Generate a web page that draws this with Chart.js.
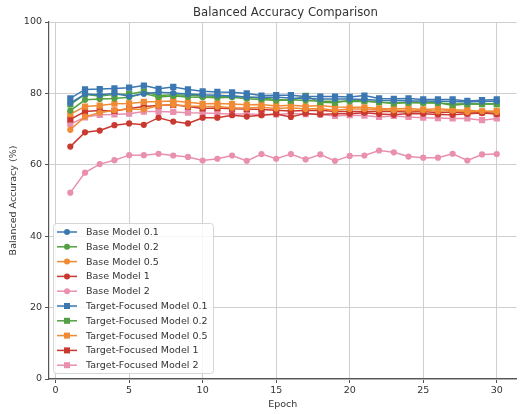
<!DOCTYPE html>
<html>
<head>
<meta charset="utf-8">
<title>Balanced Accuracy Comparison</title>
<script src="https://cdn.jsdelivr.net/npm/chart.js@4/dist/chart.umd.min.js"></script>
<style>
  html, body { margin: 0; padding: 0; background: #fff; }
  #wrap { width: 521px; height: 414px; }
</style>
</head>
<body>
<div id="wrap"><canvas id="accChart" width="521" height="414"></canvas></div>
<script>
// 数据
const epochs = [1, 2, 3, 4, 5, 6, 7, 8, 9, 10, 11, 12, 13, 14, 15, 16, 17, 18, 19, 20, 21, 22, 23, 24, 25, 26, 27, 28, 29, 30]
const xTicks = [0, 5, 10, 15, 20, 25, 30]
const yTicks = [0, 20, 40, 60, 80, 100]

const baseModel01 = [77.3, 79.8, 79.6, 80.0, 79.2, 79.9, 80.3, 80.1, 79.8, 79.6, 79.5, 79.3, 79.0, 78.9, 78.9, 78.7, 78.6, 78.4, 78.4, 78.4, 78.3, 78.1, 78.0, 77.9, 77.9, 77.8, 77.7, 77.6, 77.7, 77.8]
const baseModel02 = [75.2, 78.2, 78.4, 78.6, 78.9, 80.0, 79.0, 79.3, 79.0, 78.9, 78.8, 78.9, 78.5, 78.3, 78.0, 78.2, 78.0, 77.8, 77.8, 77.7, 77.8, 77.5, 77.4, 77.4, 77.3, 77.3, 77.0, 77.1, 77.0, 77.1]
const baseModel05 = [69.8, 73.5, 74.6, 75.3, 75.6, 75.5, 76.6, 76.8, 76.5, 76.3, 76.3, 76.0, 75.9, 76.1, 75.8, 76.0, 75.6, 75.8, 75.3, 75.6, 75.6, 75.5, 75.3, 75.2, 75.3, 75.0, 75.2, 74.8, 75.0, 74.8]
const baseModel1 = [65.1, 69.1, 69.6, 71.1, 71.6, 71.2, 73.2, 72.1, 71.6, 73.2, 73.2, 73.9, 73.5, 73.9, 74.2, 73.4, 74.4, 74.1, 74.3, 74.3, 74.6, 74.2, 74.0, 74.4, 74.3, 74.1, 74.0, 74.3, 74.5, 74.2]
const baseModel2 = [52.2, 57.8, 60.2, 61.3, 62.7, 62.7, 63.1, 62.6, 62.2, 61.2, 61.7, 62.6, 61.1, 63.0, 61.7, 63.0, 61.5, 62.9, 61.1, 62.5, 62.6, 64.0, 63.5, 62.3, 62.0, 62.0, 63.1, 61.2, 62.9, 63.0]
const targetModel01 = [78.6, 81.1, 81.2, 81.4, 81.6, 82.2, 81.3, 81.8, 81.1, 80.6, 80.4, 80.3, 80.0, 79.4, 79.5, 79.5, 79.1, 79.1, 79.1, 79.0, 79.4, 78.6, 78.5, 78.6, 78.3, 78.3, 78.3, 77.9, 78.1, 78.3]
const targetModel02 = [76.9, 79.7, 79.3, 79.7, 79.8, 80.5, 79.4, 79.6, 79.5, 79.3, 79.2, 79.3, 78.9, 78.7, 78.3, 78.0, 79.3, 77.5, 77.4, 78.1, 77.9, 77.6, 77.2, 77.5, 77.5, 77.4, 76.7, 77.0, 77.0, 77.0]
const targetModel05 = [74.2, 76.3, 76.6, 77.1, 77.2, 77.6, 77.7, 77.9, 77.5, 77.1, 77.2, 77.0, 76.8, 76.9, 76.5, 76.7, 76.4, 76.6, 76.2, 76.1, 76.1, 75.8, 75.7, 75.8, 75.5, 75.7, 75.4, 75.3, 75.0, 75.1]
const targetModel1 = [72.7, 74.9, 75.2, 75.1, 75.8, 76.3, 76.6, 76.8, 76.3, 75.8, 75.9, 75.7, 75.6, 75.5, 75.3, 75.1, 75.2, 75.3, 74.9, 74.9, 74.9, 75.0, 74.9, 74.8, 74.9, 74.6, 74.8, 74.6, 74.7, 74.4]
const targetModel2 = [71.4, 73.3, 74.0, 74.1, 74.3, 74.9, 74.9, 74.8, 74.6, 74.5, 74.4, 74.2, 74.2, 74.1, 74.1, 74.4, 74.2, 74.1, 73.7, 73.9, 73.8, 73.4, 73.7, 73.4, 73.2, 73.1, 73.0, 73.0, 72.5, 73.0]

const seriesNames = [
  'Base Model 0.1', 'Base Model 0.2', 'Base Model 0.5', 'Base Model 1', 'Base Model 2',
  'Target-Focused Model 0.1', 'Target-Focused Model 0.2', 'Target-Focused Model 0.5', 'Target-Focused Model 1', 'Target-Focused Model 2'
]
const seriesValues = [
  baseModel01, baseModel02, baseModel05, baseModel1, baseModel2,
  targetModel01, targetModel02, targetModel05, targetModel1, targetModel2
]

// 样式
const palette = ['#3b77b0', '#52a043', '#f08a35', '#c9392f', '#e890ae']
const FONT = 'DejaVu Sans'
const TEXT = '#333333'

const datasets = seriesNames.map((name, i) => {
  const color = palette[i % 5]
  const isTarget = i >= 5
  return {
    label: name,
    data: epochs.map((e, k) => ({ x: e, y: seriesValues[i][k] })),
    borderColor: color,
    backgroundColor: color,
    borderWidth: 1.5,
    pointStyle: isTarget ? 'rect' : 'circle',
    pointRadius: isTarget ? 4.4 : 3.1,
    pointBorderWidth: 0,
    pointHoverRadius: isTarget ? 4.4 : 3.1,
    tension: 0
  }
})

// 标题（画在绘图区上方）
const titlePlugin = {
  id: 'plotTitle',
  afterDraw(chart) {
    const { ctx, chartArea } = chart
    ctx.save()
    ctx.font = `11.7px "${FONT}"`
    ctx.fillStyle = TEXT
    ctx.textAlign = 'center'
    ctx.textBaseline = 'middle'
    ctx.fillText('Balanced Accuracy Comparison', (chartArea.left + 522) / 2, 13)
    ctx.restore()
  }
}

// 图例放在绘图区左下角
const insideLegend = {
  id: 'insideLegend',
  afterDatasetsDraw(chart) {
    const ctx = chart.ctx
    const x0 = 53.5, y0 = 223.5, w = 160, h = 150
    ctx.save()
    ctx.beginPath()
    ctx.roundRect(x0, y0, w, h, 3)
    ctx.fillStyle = 'rgba(255,255,255,0.8)'
    ctx.fill()
    ctx.strokeStyle = '#d6d6d6'
    ctx.lineWidth = 1
    ctx.stroke()

    ctx.font = `9.5px "${FONT}"`
    ctx.textBaseline = 'middle'
    ctx.textAlign = 'left'
    chart.data.datasets.forEach((ds, i) => {
      const y = 232 + i * 14.8
      ctx.strokeStyle = ds.borderColor
      ctx.lineWidth = 1.5
      ctx.beginPath()
      ctx.moveTo(57, y)
      ctx.lineTo(77, y)
      ctx.stroke()
      ctx.fillStyle = ds.backgroundColor
      if (ds.pointStyle === 'rect') {
        ctx.fillRect(67 - 3, y - 3, 6, 6)
      } else {
        ctx.beginPath()
        ctx.arc(67, y, 3, 0, Math.PI * 2)
        ctx.fill()
      }
      ctx.fillStyle = TEXT
      ctx.fillText(ds.label, 86, y + 0.5)
    })
    ctx.restore()
  }
}

new Chart(document.getElementById('accChart'), {
  type: 'line',
  data: { datasets: datasets },
  plugins: [titlePlugin, insideLegend],
  options: {
    responsive: false,
    animation: false,
    devicePixelRatio: 1,
    layout: { padding: { top: 22, right: 0, bottom: 0, left: 0 } },
    plugins: {
      legend: { display: false },
      title: { display: false },
      tooltip: { enabled: false }
    },
    scales: {
      x: {
        type: 'linear',
        min: -0.45,
        max: 31.35,
        afterBuildTicks: (scale) => { scale.ticks = xTicks.map(v => ({ value: v })) },
        afterFit: (scale) => { scale.height = 35 },
        ticks: {
          includeBounds: false,
          padding: 2,
          color: TEXT,
          font: { family: FONT, size: 9.5 },
          maxRotation: 0
        },
        grid: { color: '#cfcfcf', lineWidth: 1, tickLength: 4, tickColor: '#555' },
        border: { color: '#555', width: 1.2 },
        title: {
          display: true,
          text: 'Epoch',
          color: TEXT,
          font: { family: FONT, size: 9.5 },
          padding: { top: 0, bottom: 4 }
        }
      },
      y: {
        min: 0,
        max: 100,
        afterBuildTicks: (scale) => { scale.ticks = yTicks.map(v => ({ value: v })) },
        afterFit: (scale) => { scale.width = 49 },
        ticks: {
          padding: 3,
          color: TEXT,
          font: { family: FONT, size: 9.5 }
        },
        grid: { color: '#cfcfcf', lineWidth: 1, tickLength: 4, tickColor: '#555' },
        border: { color: '#555', width: 1.2 },
        title: {
          display: true,
          text: 'Balanced Accuracy (%)',
          color: TEXT,
          font: { family: FONT, size: 9.5 },
          padding: { top: 8, bottom: 0 }
        }
      }
    }
  }
})
</script>
</body>
</html>
